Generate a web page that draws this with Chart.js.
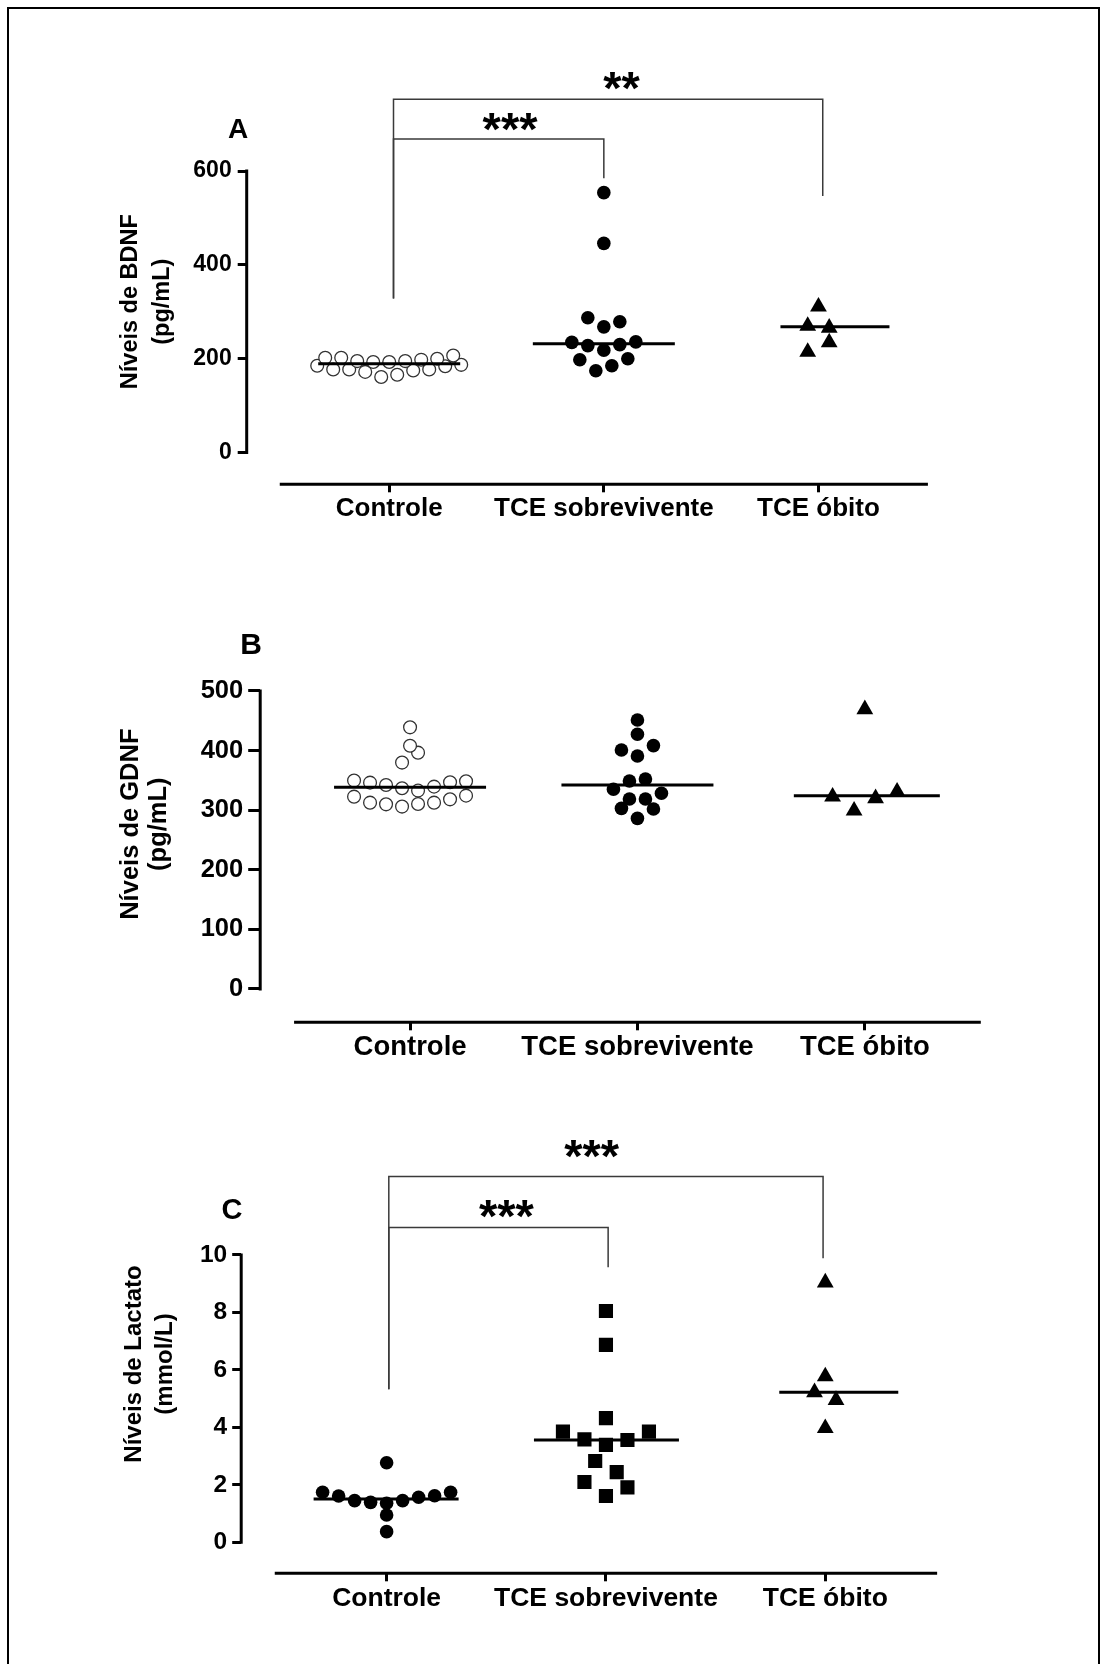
<!DOCTYPE html>
<html>
<head>
<meta charset="utf-8">
<script src="https://cdn.jsdelivr.net/npm/chart.js@4.4.0/dist/chart.umd.min.js"></script>
<style>
  body { margin: 0; background: #fff; width: 1107px; height: 1664px; overflow: hidden; position: relative; font-family: "Liberation Sans", Arial, sans-serif; }
  .frame { position: absolute; left: 7px; top: 7px; width: 1089px; height: 1700px; border: 2px solid #000; }
  .panel { position: absolute; left: 0; width: 1107px; }
  .letter { position: absolute; font-weight: bold; line-height: 1; transform: translate(-50%, -50%); }
</style>
</head>
<body>
<div class="frame"></div>
<div class="panel" style="top:0;height:560px"><canvas id="chartA"></canvas></div>
<div class="panel" style="top:560px;height:520px"><canvas id="chartB"></canvas></div>
<div class="panel" style="top:1080px;height:584px"><canvas id="chartC"></canvas></div>
<div class="letter" style="left:238px;top:129px;font-size:28px">A</div>
<div class="letter" style="left:251px;top:644px;font-size:30px">B</div>
<div class="letter" style="left:232px;top:1209px;font-size:29px">C</div>

<script>
const categories = ["Controle", "TCE sobrevivente", "TCE óbito"];

// A - BDNF (pg/mL), each group listed row by row, left to right
const bdnfControle = [185, 177, 177, 172, 161, 166, 175, 177, 184, 187, 202, 202, 195, 193, 193, 195, 198, 200, 207];
const bdnfSobrevivente = [198, 174.5, 185, 200, 235, 228, 218, 230, 236, 287.5, 268, 279, 446, 554];
const bdnfObito = [214.6, 235, 270, 266, 311];
const bdnfMedians = [189.5, 232, 268];
const bdnfTicks = [0, 200, 400, 600];

// B - GDNF (pg/mL)
const gdnfControle = [322.7, 312.6, 309.8, 306, 310.4, 312.6, 318.2, 324.4, 349.6, 346.2, 342.3, 336.7, 332.8, 339.5, 346.8, 348.4, 379.8, 396.5, 408, 439];
const gdnfSobrevivente = [303.1, 286.3, 302, 335, 318.8, 318.8, 328.3, 349, 352.3, 401, 391, 408.3, 427.3, 451.3];
const gdnfObito = [322.7, 299.2, 319.9, 331, 469.2];
const gdnfMedians = [338.4, 342.3, 324.4];
const gdnfTicks = [0, 100, 200, 300, 400, 500];

// C - Lactato (mmol/L)
const lacControle = [1.74, 1.61, 1.45, 1.39, 1.36, 1.45, 1.57, 1.62, 1.74, 0.37, 0.95, 2.77];
const lacSobrevivente = [2.1, 1.61, 1.91, 2.83, 2.44, 3.85, 3.58, 3.39, 3.56, 3.85, 4.32, 6.87, 8.05];
const lacObito = [3.97, 5.22, 4.95, 5.77, 9.04];
const lacMedians = [1.51, 3.56, 5.22];
const lacTicks = [0, 2, 4, 6, 8, 10];

const FONT = "'Liberation Sans', Arial, sans-serif";

const openCircle = { pointStyle: "circle", pointRadius: 6.4, pointBackgroundColor: "#fff", pointBorderColor: "#333", pointBorderWidth: 1.3, swarm: { step: 16, span: 14.5, gap: 10.5 } };
const dot = { pointStyle: "circle", pointRadius: 6.8, pointBackgroundColor: "#000", pointBorderWidth: 0, swarm: { step: 16, span: 14.5, gap: 10.5 } };
const tri = { pointStyle: "triangle", pointRadius: 9.7, pointBackgroundColor: "#000", pointBorderWidth: 0, swarm: { step: 21.5, span: 20, gap: 14 } };
const square = { pointStyle: "rect", pointRadius: 10, pointBackgroundColor: "#000", pointBorderWidth: 0, swarm: { step: 21.5, span: 16.5, gap: 12 } };

// scatter-dot layout: points that fall in the same band are spread evenly around the group centre
const panelDecor = {
  id: "panelDecor",
  afterDatasetsUpdate(chart) {
    chart.data.datasets.forEach((ds, di) => {
      const sw = ds.swarm;
      if (!sw) return;
      const pts = chart.getDatasetMeta(di).data.map((el, i) => ({ el, i, y: el.y }));
      const sorted = pts.slice().sort((a, b) => b.y - a.y);
      const rows = [];
      let cur = null;
      sorted.forEach(p => {
        if (cur && cur.start - p.y < sw.span && cur.last - p.y < sw.gap) {
          cur.pts.push(p);
          cur.last = p.y;
        } else {
          cur = { start: p.y, last: p.y, pts: [p] };
          rows.push(cur);
        }
      });
      rows.forEach(r => {
        r.pts.sort((a, b) => a.i - b.i);
        r.pts.forEach((p, k) => { p.el.x += (k - (r.pts.length - 1) / 2) * sw.step; });
      });
    });
  },
  afterDatasetsDraw(chart, args, opts) {
    const { ctx, chartArea } = chart;
    const xs = chart.scales.x, ys = chart.scales.y;
    ctx.save();
    ctx.strokeStyle = "#000";
    ctx.lineWidth = 3;

    // axis lines
    ctx.beginPath();
    ctx.moveTo(chartArea.left, ys.getPixelForValue(opts.yTop) - 1.5);
    ctx.lineTo(chartArea.left, ys.getPixelForValue(0) + 1.5);
    ctx.moveTo(xs.getPixelForValue(opts.xSpan[0]), chartArea.bottom);
    ctx.lineTo(xs.getPixelForValue(opts.xSpan[1]), chartArea.bottom);
    ctx.stroke();

    // median lines
    opts.medians.forEach((m, i) => {
      const cx = xs.getPixelForValue(i), y = ys.getPixelForValue(m);
      const [l, r] = opts.reach[i];
      ctx.beginPath();
      ctx.moveTo(cx - l, y);
      ctx.lineTo(cx + r, y);
      ctx.stroke();
    });

    // significance brackets
    ctx.strokeStyle = "#3a3a3a";
    ctx.lineWidth = 1.5;
    ctx.fillStyle = "#000";
    ctx.font = "bold 47px " + FONT;
    ctx.textAlign = "center";
    ctx.textBaseline = "alphabetic";
    (opts.brackets || []).forEach(b => {
      const xa = xs.getPixelForValue(b.x0), xb = xs.getPixelForValue(b.x1);
      const y = ys.getPixelForValue(b.y);
      ctx.beginPath();
      ctx.moveTo(xa, ys.getPixelForValue(b.y0));
      ctx.lineTo(xa, y);
      ctx.lineTo(xb, y);
      ctx.lineTo(xb, ys.getPixelForValue(b.y1));
      ctx.stroke();
      ctx.fillText(b.text, xs.getPixelForValue(b.tx), y - b.lift + 23.5);
    });
    ctx.restore();
  }
};

function makeChart(id, p) {
  return new Chart(document.getElementById(id), {
    type: "scatter",
    data: {
      datasets: p.series.map((vals, i) => Object.assign({
        data: vals.map(v => ({ x: i, y: v }))
      }, p.styles[i]))
    },
    options: {
      responsive: true,
      maintainAspectRatio: false,
      animation: false,
      events: [],
      layout: { padding: p.padding },
      plugins: {
        legend: { display: false },
        tooltip: { enabled: false },
        panelDecor: { medians: p.medians, reach: p.reach, yTop: p.ticks[p.ticks.length - 1], xSpan: [-0.51, 2.51], brackets: p.brackets }
      },
      scales: {
        x: {
          type: "linear",
          min: p.xMin, max: p.xMax,
          afterBuildTicks: s => { s.ticks = categories.map((c, i) => ({ value: i })); },
          afterFit: s => { s.height = 50; },
          ticks: { callback: v => categories[v], font: { family: FONT, size: p.xFont, weight: "bold", lineHeight: 1.2 }, color: "#000", padding: 1, maxRotation: 0, autoSkip: false },
          grid: { display: true, drawOnChartArea: false, drawTicks: true, tickLength: 8, lineWidth: 3, color: "#000" },
          border: { display: false }
        },
        y: {
          min: p.yMin, max: p.yMax,
          afterBuildTicks: s => { s.ticks = p.ticks.map(v => ({ value: v })); },
          afterFit: s => { s.width = p.yWidth; },
          ticks: { font: { family: FONT, size: p.yFont, weight: "bold" }, color: "#000", padding: p.tickPad },
          grid: { display: true, drawOnChartArea: false, drawTicks: true, tickLength: p.tickLen, lineWidth: 3, color: "#000" },
          border: { display: false },
          title: { display: true, text: p.title, color: "#000", padding: 0, font: { family: FONT, size: p.titleFont, weight: "bold", lineHeight: p.titleLine } }
        }
      }
    },
    plugins: [panelDecor]
  });
}

makeChart("chartA", {
  series: [bdnfControle, bdnfSobrevivente, bdnfObito],
  styles: [openCircle, dot, tri],
  medians: bdnfMedians,
  reach: [[71, 71], [71, 71], [38, 71]],
  ticks: bdnfTicks,
  title: ["Níveis de BDNF", "(pg/mL)"],
  titleFont: 23.5, titleLine: 1.36,
  padding: { left: 115, right: 170.5, top: 119, bottom: 25.7 },
  yWidth: 131.7,
  xMin: -0.664, xMax: 2.55,
  yMin: -67.6, yMax: 711,
  xFont: 26, yFont: 23, tickLen: 9, tickPad: 6,
  brackets: [
    { x0: 0.02, x1: 1, y: 668.3, y0: 328.5, y1: 584.5, text: "***", tx: 0.563, lift: 18 },
    { x0: 0.02, x1: 2.02, y: 753, y0: 328.5, y1: 546.7, text: "**", tx: 1.082, lift: 19 }
  ]
});

makeChart("chartB", {
  series: [gdnfControle, gdnfSobrevivente, gdnfObito],
  styles: [openCircle, dot, tri],
  medians: gdnfMedians,
  reach: [[76, 76], [76, 76], [71, 75]],
  ticks: gdnfTicks,
  title: ["Níveis de GDNF", "(pg/mL)"],
  titleFont: 25.5, titleLine: 1.12,
  padding: { left: 116.5, right: 117.1, top: 66, bottom: 7.7 },
  yWidth: 143.7,
  xMin: -0.659, xMax: 2.55,
  yMin: -55.9, yMax: 609,
  xFont: 27.5, yFont: 25.5, tickLen: 12, tickPad: 5,
  brackets: []
});

makeChart("chartC", {
  series: [lacControle, lacSobrevivente, lacObito],
  styles: [dot, square, tri],
  medians: lacMedians,
  reach: [[73, 72], [72, 73], [46, 73]],
  ticks: lacTicks,
  title: ["Níveis de Lactato", "(mmol/L)"],
  titleFont: 24, titleLine: 1.3,
  padding: { left: 119, right: 161.1, top: 74.7, bottom: 40.7 },
  yWidth: 122.2,
  xMin: -0.663, xMax: 2.55,
  yMin: -1.079, yMax: 13.49,
  xFont: 26.5, yFont: 24.5, tickLen: 9, tickPad: 5,
  brackets: [
    { x0: 0.01, x1: 1.01, y: 10.96, y0: 5.33, y1: 9.57, text: "***", tx: 0.546, lift: 19 },
    { x0: 0.01, x1: 1.99, y: 12.73, y0: 5.33, y1: 9.89, text: "***", tx: 0.935, lift: 28 }
  ]
});
</script>
</body>
</html>
